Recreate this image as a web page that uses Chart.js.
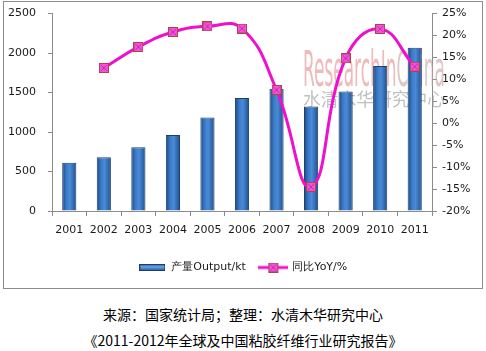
<!DOCTYPE html>
<html>
<head>
<meta charset="utf-8">
<script src="https://cdn.jsdelivr.net/npm/chart.js@4.4.1/dist/chart.umd.min.js"></script>
<style>
    body { margin: 0; background: #fff; width: 486px; height: 351px; position: relative; overflow: hidden; }
    #box { position: absolute; left: 3px; top: 1px; width: 478px; height: 286px; border: 1px solid #8c8c8c; }
    .cap { position: absolute; left: 0; width: 486px; text-align: center; font: 14px "Noto Sans CJK SC", sans-serif; color: #000; line-height: 18px; }
</style>
</head>
<body>
<div id="box"><canvas id="outputChart"></canvas></div>
<div class="cap" style="top:305px">来源：国家统计局；整理：水清木华研究中心</div>
<div class="cap" style="top:331px">《2011-2012年全球及中国粘胶纤维行业研究报告》</div>
<script>
const years = ['2001', '2002', '2003', '2004', '2005', '2006', '2007', '2008', '2009', '2010', '2011'];
const output = [610, 682, 808, 963, 1183, 1431, 1549, 1322, 1515, 1835, 2067];
const yoy = [null, 12.6, 17.4, 20.8, 22.1, 21.6, 7.6, -14.5, 14.8, 21.5, 12.9];
const leftTicks = [0, 500, 1000, 1500, 2000, 2500];
const rightTicks = [-20, -15, -10, -5, 0, 5, 10, 15, 20, 25];

Chart.defaults.font.family = '"DejaVu Sans", Verdana, sans-serif';
Chart.defaults.font.size = 11;
Chart.defaults.color = '#1a1a1a';

// square marker with an x inside, like the spreadsheet one
function makeMarker() {
    const c = document.createElement('canvas');
    c.width = 10; c.height = 10;
    const g = c.getContext('2d');
    g.fillStyle = '#a8444c';
    g.fillRect(0, 0, 10, 10);
    g.fillStyle = '#f255d6';
    g.fillRect(1, 1, 8, 8);
    g.strokeStyle = '#d21fb8';
    g.lineWidth = 1;
    g.beginPath();
    g.moveTo(2, 2); g.lineTo(8, 8);
    g.moveTo(8, 2); g.lineTo(2, 8);
    g.stroke();
    return c;
}
const marker = makeMarker();

function barIcon() {
    const c = document.createElement('canvas');
    c.width = 26; c.height = 7;
    const g = c.getContext('2d');
    const gr = g.createLinearGradient(0, 0, 0, 7);
    gr.addColorStop(0, '#1f4e8c');
    gr.addColorStop(0.4, '#6aa6e8');
    gr.addColorStop(1, '#1f4e8c');
    g.fillStyle = gr;
    g.fillRect(0, 0, 26, 7);
    g.strokeStyle = '#1c3f70';
    g.strokeRect(0.5, 0.5, 25, 6);
    return c;
}

function lineIcon() {
    const c = document.createElement('canvas');
    c.width = 30; c.height = 10;
    const g = c.getContext('2d');
    g.strokeStyle = '#ee10cc';
    g.lineWidth = 3;
    g.beginPath();
    g.moveTo(0, 5); g.lineTo(30, 5);
    g.stroke();
    g.drawImage(marker, 10, 0);
    return c;
}

const watermark = {
    id: 'watermark',
    beforeDatasetsDraw(chart) {
        const ctx = chart.ctx;
        ctx.save();
        ctx.font = '50px "Liberation Sans Narrow", "DejaVu Sans Condensed", sans-serif';
        ctx.textBaseline = 'alphabetic';
        const a = 'ResearchIn', b = 'China';
        const wa = ctx.measureText(a).width, wb = ctx.measureText(b).width;
        const sx = 142 / (wa + wb);
        ctx.translate(299, 84);
        ctx.scale(sx, 1);
        ctx.fillStyle = 'rgba(228, 140, 140, 0.6)';
        ctx.fillText(a, 0, 0);
        ctx.fillStyle = 'rgba(200, 160, 160, 0.6)';
        ctx.fillText(b, wa, 0);
        ctx.restore();

        ctx.save();
        ctx.font = '18px "Noto Sans CJK SC", sans-serif';
        ctx.textBaseline = 'middle';
        const t = '水清木华研究中心';
        const wt = ctx.measureText(t).width;
        ctx.translate(299, 97);
        ctx.scale(142 / wt, 1);
        ctx.fillStyle = 'rgba(150, 150, 150, 0.6)';
        ctx.fillText(t, 0, 0);
        ctx.restore();
    }
};

function barFill(c) {
    if (c.type !== 'data') return '#3b73bd';
    const x = c.chart.scales.x.getPixelForValue(c.dataIndex);
    const g = c.chart.ctx.createLinearGradient(x - 7, 0, x + 7, 0);
    g.addColorStop(0, '#1b477f');
    g.addColorStop(0.3, '#3b7ac6');
    g.addColorStop(0.55, '#4a8ad6');
    g.addColorStop(0.85, '#2e64a8');
    g.addColorStop(1, '#1b477f');
    return g;
}

new Chart(document.getElementById('outputChart'), {
    type: 'bar',
    data: {
        labels: years,
        datasets: [
            {
                type: 'line',
                label: '同比YoY/%',
                data: yoy,
                yAxisID: 'y1',
                borderColor: '#ee10cc',
                borderWidth: 3,
                tension: 0.45,
                pointStyle: marker,
                pointRadius: 5,
                order: 0
            },
            {
                label: '产量Output/kt',
                data: output,
                yAxisID: 'y',
                backgroundColor: barFill,
                borderColor: '#1c3f70',
                borderWidth: 1,
                barPercentage: 0.41,
                categoryPercentage: 1,
                order: 1
            }
        ]
    },
    options: {
        responsive: true,
        maintainAspectRatio: false,
        animation: false,
        layout: { padding: { top: 0, bottom: 5, left: 0, right: 0 } },
        plugins: {
            tooltip: { enabled: false },
            legend: {
                position: 'bottom',
                labels: {
                    usePointStyle: true,
                    pointStyleWidth: 27,
                    boxHeight: 10,
                    padding: 14,
                    color: '#1a1a1a',
                    font: { size: 11 },
                    generateLabels: () => [
                        { text: '产量Output/kt', pointStyle: barIcon(), datasetIndex: 1, fontColor: '#1a1a1a', lineWidth: 0 },
                        { text: '同比YoY/%', pointStyle: lineIcon(), datasetIndex: 0, fontColor: '#1a1a1a', lineWidth: 0 }
                    ]
                }
            }
        },
        scales: {
            x: {
                grid: { offset: true, drawOnChartArea: false, tickLength: 5, color: '#8c8c8c' },
                border: { color: '#8c8c8c' },
                ticks: { padding: 8 },
                afterFit: (s) => { s.height = 37; }
            },
            y: {
                position: 'left',
                min: 0,
                max: 2500,
                afterBuildTicks: (s) => { s.ticks = leftTicks.map(v => ({ value: v })); },
                grid: { drawOnChartArea: false, tickLength: 4, color: '#8c8c8c' },
                border: { color: '#8c8c8c' },
                // small padding keeps the plot top high; the spaces push the labels left
                ticks: { padding: 5, callback: (v) => v + '  ' },
                afterFit: (s) => { s.width = 48; }
            },
            y1: {
                position: 'right',
                min: -20,
                max: 25,
                afterBuildTicks: (s) => { s.ticks = rightTicks.map(v => ({ value: v })); },
                grid: { drawOnChartArea: false, tickLength: 5, color: '#8c8c8c' },
                border: { color: '#8c8c8c' },
                ticks: { padding: 5, callback: (v) => v + '%' },
                afterFit: (s) => { s.width = 50; }
            }
        }
    },
    plugins: [watermark]
});
</script>
</body>
</html>
